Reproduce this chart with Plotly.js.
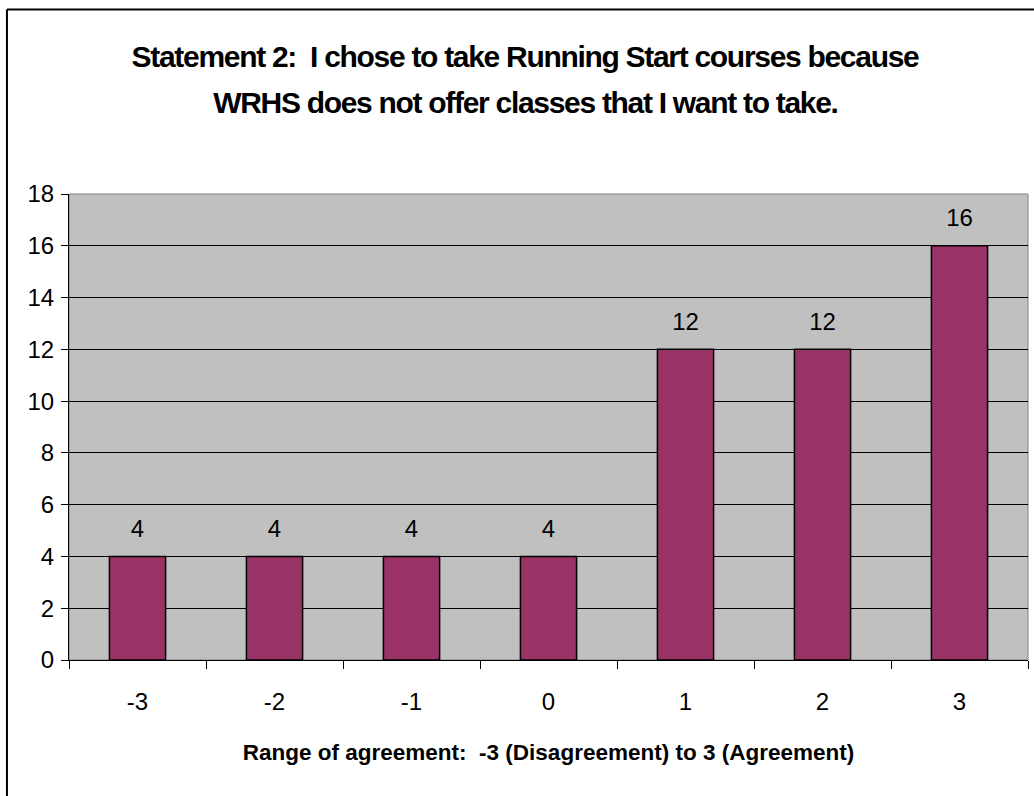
<!DOCTYPE html>
<html>
<head>
<meta charset="utf-8">
<script src="https://cdn.plot.ly/plotly-3.0.1.min.js"></script>
<style>
html, body { margin: 0; padding: 0; background: #fff; }
#chart { width: 1034px; height: 796px; }
.gtitle, g.annotation[data-index="0"] text { letter-spacing: -1.3px; }
</style>
</head>
<body>
<div id="chart"></div>
<script>
const categories = ["-3", "-2", "-1", "0", "1", "2", "3"];
const counts = [4, 4, 4, 4, 12, 12, 16];
const yTickValues = [0, 2, 4, 6, 8, 10, 12, 14, 16, 18];
const titleLines = [
  "Statement 2:  I chose to take Running Start courses because",
  "WRHS does not offer classes that I want to take."
];
const xTitle = "Range of agreement:  -3 (Disagreement) to 3 (Agreement)";

const FONT = "Liberation Sans, Arial, sans-serif";

const bars = {
  type: "bar",
  x: categories,
  y: counts,
  marker: { color: "#993366", line: { color: "#000000", width: 1.5 } },
  hoverinfo: "x+y"
};

const valueLabels = {
  type: "scatter",
  mode: "markers+text",
  x: categories,
  y: counts,
  text: counts.map(String),
  textposition: "top center",
  textfont: { family: FONT, size: 24, color: "#000" },
  marker: { size: 20, opacity: 0 },
  cliponaxis: false,
  hoverinfo: "skip"
};

const layout = {
  width: 1034, height: 796,
  margin: { l: 69, r: 6, t: 194, b: 136 },
  paper_bgcolor: "#ffffff",
  plot_bgcolor: "#C0C0C0",
  font: { family: FONT, color: "#000" },
  showlegend: false,
  bargap: 0.59,
  title: {
    text: titleLines[0],
    font: { family: FONT, size: 30, color: "#000", weight: "bold" },
    x: 525 / 1034, xref: "container", xanchor: "center",
    y: 1 - 56 / 796, yref: "container", yanchor: "middle"
  },
  xaxis: {
    type: "category",
    categoryorder: "array", categoryarray: categories,
    tickson: "boundaries",
    ticks: "outside", ticklen: 8, tickcolor: "#000", tickwidth: 1,
    ticklabelstandoff: 20,
    tickfont: { family: FONT, size: 24, color: "#000" },
    showline: true, linecolor: "#000", linewidth: 1,
    showgrid: false, zeroline: false,
    title: { text: xTitle, font: { family: FONT, size: 22.5, color: "#000", weight: "bold" }, standoff: 30 }
  },
  yaxis: {
    range: [0, 18],
    tickvals: yTickValues,
    ticks: "outside", ticklen: 7, tickcolor: "#000", tickwidth: 1,
    tickfont: { family: FONT, size: 24, color: "#000" },
    ticklabelstandoff: 2,
    showline: true, linecolor: "#000", linewidth: 1,
    showgrid: true, gridcolor: "#000", gridwidth: 1,
    zeroline: false
  },
  shapes: [
    { type: "rect", xref: "paper", yref: "paper", x0: 0, x1: 1, y0: 0, y1: 1,
      line: { color: "#808080", width: 1 }, layer: "below" },
    { type: "line", xref: "paper", yref: "paper", x0: -0.0647, x1: 1.1, y0: 1.396, y1: 1.396,
      line: { color: "#000", width: 2 } },
    { type: "line", xref: "paper", yref: "paper", x0: -0.0647, x1: -0.0647, y0: 1.396, y1: -0.5,
      line: { color: "#000", width: 2 } }
  ],
  annotations: [
    { text: titleLines[1], xref: "paper", yref: "paper",
      x: (525 - 69) / 959, y: (660 - 102) / 466,
      xanchor: "center", yanchor: "middle", showarrow: false,
      font: { family: FONT, size: 30, color: "#000", weight: "bold" } }
  ]
};

Plotly.newPlot("chart", [bars, valueLabels], layout, { displayModeBar: false, staticPlot: true });
</script>
</body>
</html>
